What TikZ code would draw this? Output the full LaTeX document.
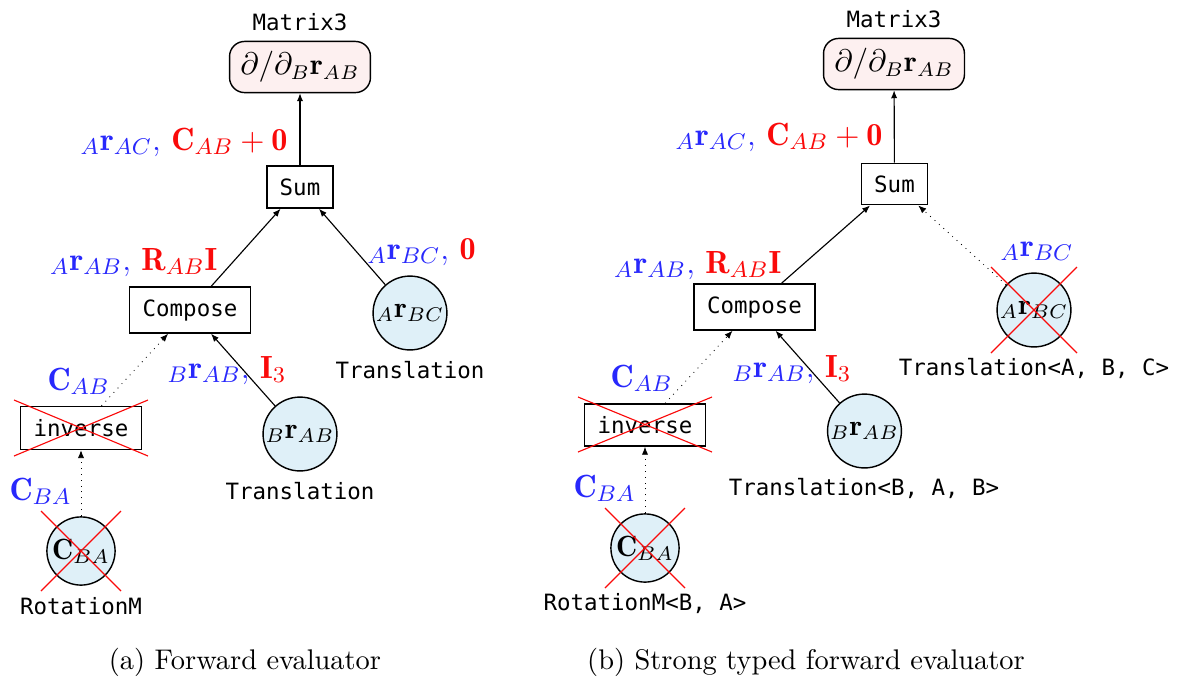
\documentclass[tikz,border=0pt]{standalone}
\usepackage{fontspec}
\newfontfamily\monofont{DejaVu Sans Mono}
\usetikzlibrary{arrows.meta,calc}
\definecolor{lblue}{RGB}{40,40,252}
\definecolor{lred}{RGB}{250,10,10}
\definecolor{circfill}{RGB}{223,240,248}
\definecolor{matfill}{RGB}{253,240,240}
\begin{document}
\begin{tikzpicture}[x=0.352pt,y=-0.352pt,
  opbox/.style={draw, line width=0.5pt, inner sep=0pt, minimum width=42.6pt, minimum height=15.6pt, font=\fontsize{7.9}{9}\selectfont\monofont},
  leaf/.style={circle, draw, line width=0.5pt, fill=circfill, inner sep=0pt, minimum size=26pt, font=\fontsize{10.3}{12}\selectfont},
  resbox/.style={draw, line width=0.5pt, rounded corners=5.3pt, fill=matfill, inner sep=0pt, minimum width=49.6pt, minimum height=18pt, font=\fontsize{10.5}{12}\selectfont},
  tname/.style={font=\fontsize{7.9}{9}\selectfont\monofont, anchor=base, inner sep=0pt},
  edgelbl/.style={font=\fontsize{11.3}{13}\selectfont, inner sep=0pt},
  conn/.style={-{Latex[length=2.8pt,width=2.2pt]}, line width=0.4pt},
  weak/.style={conn, line width=0.3pt, dash pattern=on 0.3pt off 1.8pt},
  cross/.style={lred, line width=0.4pt},
  captxt/.style={font=\fontsize{10}{12}\selectfont, anchor=base, inner sep=0pt}
]
\useasboundingbox (0,0) rectangle (1186,677);

% ---------------- (a) ----------------
\node[resbox] (matA) at (300,67) {$\partial/\partial_{B}\mathbf{r}_{AB}$};
\node[tname] (matAt) at (300,30) {Matrix3};
\node[opbox, minimum width=23.2pt, minimum height=14.8pt] (sumA) at (300,187) {Sum};
\node[opbox, minimum height=16.2pt] (compA) at (190,310) {Compose};
\node[leaf] (trbcA) at (410,313) {${}_{A}\mathbf{r}_{BC}$};
\node[tname] (trbcAt) at (410,378) {Translation};
\node[opbox, minimum height=15.1pt] (invA) at (81,428) {inverse};
\node[leaf] (trabA) at (300,434) {${}_{B}\mathbf{r}_{AB}$};
\node[tname] (trabAt) at (300,499) {Translation};
\node[leaf, minimum size=24pt] (rotA) at (81,551) {$\mathbf{C}_{BA}$};
\node[tname] (rotAt) at (81,614) {RotationM};

\draw[cross] ($(invA.center)+(-67,28)$) -- ($(invA.center)+(67,-28)$);
\draw[cross] ($(invA.center)+(-67,-28)$) -- ($(invA.center)+(67,28)$);
\draw[cross] ($(rotA.center)+(-40,40)$) -- ($(rotA.center)+(40,-40)$);
\draw[cross] ($(rotA.center)+(-40,-40)$) -- ($(rotA.center)+(40,40)$);

\draw[conn] (sumA) -- (matA);
\draw[conn] (compA) -- (sumA);
\draw[conn] (trbcA) -- (sumA);
\draw[weak] (invA) -- (compA);
\draw[conn] (trabA) -- (compA);
\draw[weak] (rotA) -- (invA);

\node[edgelbl, anchor=base east] (la1) at (288,150) {\textcolor{lblue}{${}_{A}\mathbf{r}_{AC}$,} \textcolor{lred}{$\mathbf{C}_{AB}+\mathbf{0}$}};
\node[edgelbl, anchor=base east] (la2) at (218,270) {\textcolor{lblue}{${}_{A}\mathbf{r}_{AB}$,} \textcolor{lred}{$\mathbf{R}_{AB}\mathbf{I}$}};
\node[edgelbl, anchor=base west] (la3) at (367,259) {\textcolor{lblue}{${}_{A}\mathbf{r}_{BC}$,} \textcolor{lred}{$\mathbf{0}$}};
\node[edgelbl, anchor=base west] (la4) at (47,390) {\textcolor{lblue}{$\mathbf{C}_{AB}$}};
\node[edgelbl, anchor=base west] (la5) at (167,378) {\textcolor{lblue}{${}_{B}\mathbf{r}_{AB}$,} \textcolor{lred}{$\mathbf{I}_{3}$}};
\node[edgelbl, anchor=base west] (la6) at (9,500) {\textcolor{lblue}{$\mathbf{C}_{BA}$}};

\node[captxt] (capA) at (245,669) {(a) Forward evaluator};

% ---------------- (b) ----------------
\node[resbox] (matB) at (894,64) {$\partial/\partial_{B}\mathbf{r}_{AB}$};
\node[tname] (matBt) at (894,27) {Matrix3};
\node[opbox, minimum width=23.2pt, minimum height=14.6pt] (sumB) at (894.5,184) {Sum};
\node[opbox, minimum height=16.2pt] (compB) at (754.5,307) {Compose};
\node[leaf] (trbcB) at (1034,310) {${}_{A}\mathbf{r}_{BC}$};
\node[tname] (trbcBt) at (1034,375) {Translation<A, B, C>};
\node[opbox, minimum height=14.8pt] (invB) at (645,425) {inverse};
\node[leaf] (trabB) at (864.5,431) {${}_{B}\mathbf{r}_{AB}$};
\node[tname] (trabBt) at (864,495) {Translation<B, A, B>};
\node[leaf, minimum size=24pt] (rotB) at (645,548) {$\mathbf{C}_{BA}$};
\node[tname] (rotBt) at (645,610) {RotationM<B, A>};

\draw[cross] ($(invB.center)+(-67,27)$) -- ($(invB.center)+(67,-28)$);
\draw[cross] ($(invB.center)+(-67,-28)$) -- ($(invB.center)+(67,27)$);
\draw[cross] ($(rotB.center)+(-40,40)$) -- ($(rotB.center)+(40,-40)$);
\draw[cross] ($(rotB.center)+(-40,-40)$) -- ($(rotB.center)+(40,40)$);
\draw[cross] ($(trbcB.center)+(-43,43)$) -- ($(trbcB.center)+(43,-43)$);
\draw[cross] ($(trbcB.center)+(-43,-43)$) -- ($(trbcB.center)+(43,43)$);

\draw[conn] (sumB) -- (matB);
\draw[conn] (compB) -- (sumB);
\draw[weak] (trbcB) -- (sumB);
\draw[weak] (invB) -- (compB);
\draw[conn] (trabB) -- (compB);
\draw[weak] (rotB) -- (invB);

\node[edgelbl, anchor=base east] (lb1) at (883,145) {\textcolor{lblue}{${}_{A}\mathbf{r}_{AC}$,} \textcolor{lred}{$\mathbf{C}_{AB}+\mathbf{0}$}};
\node[edgelbl, anchor=base east] (lb2) at (782,273) {\textcolor{lblue}{${}_{A}\mathbf{r}_{AB}$,} \textcolor{lred}{$\mathbf{R}_{AB}\mathbf{I}$}};
\node[edgelbl, anchor=base west] (lb3) at (1000,256) {\textcolor{lblue}{${}_{A}\mathbf{r}_{BC}$}};
\node[edgelbl, anchor=base west] (lb4) at (610,387) {\textcolor{lblue}{$\mathbf{C}_{AB}$}};
\node[edgelbl, anchor=base west] (lb5) at (732,377) {\textcolor{lblue}{${}_{B}\mathbf{r}_{AB}$,} \textcolor{lred}{$\mathbf{I}_{3}$}};
\node[edgelbl, anchor=base west] (lb6) at (573,497) {\textcolor{lblue}{$\mathbf{C}_{BA}$}};

\node[captxt] (capB) at (806,669) {(b) Strong typed forward evaluator};
\end{tikzpicture}
\end{document}
